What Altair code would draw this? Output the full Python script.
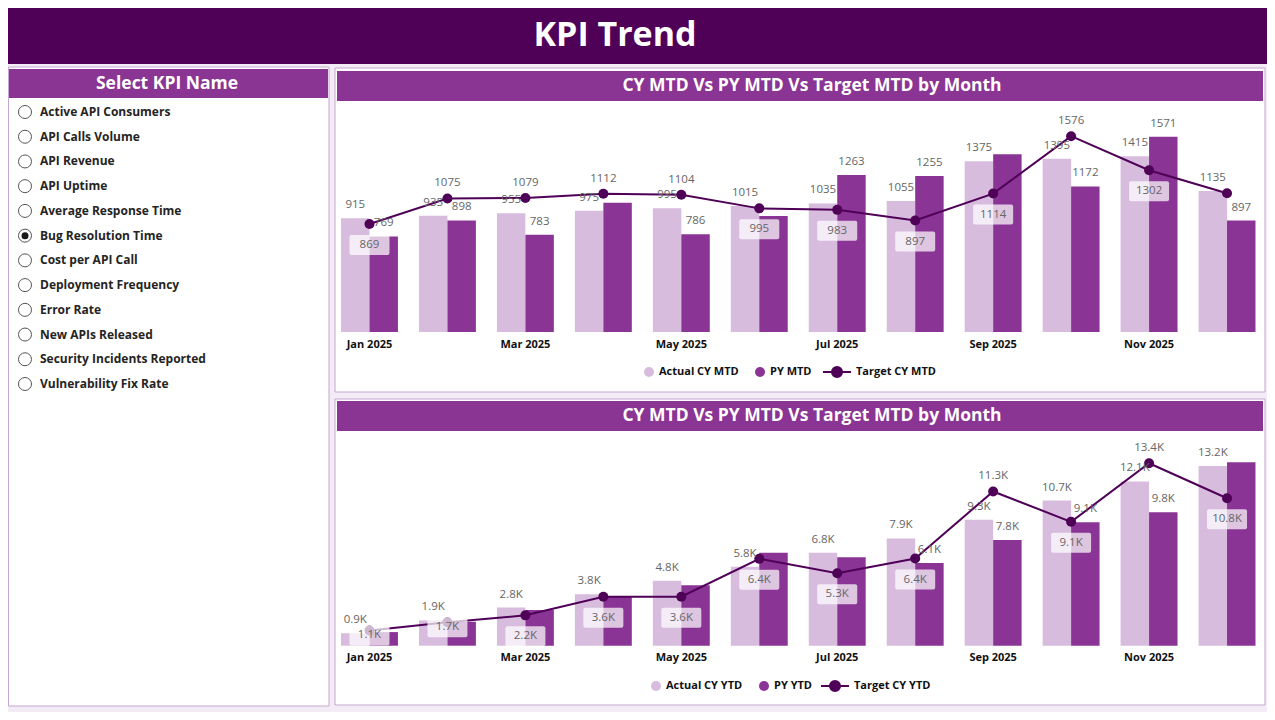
import altair as alt
import pandas as pd

# ---------------- data ----------------
months = ["Jan 2025", "Feb 2025", "Mar 2025", "Apr 2025", "May 2025", "Jun 2025",
          "Jul 2025", "Aug 2025", "Sep 2025", "Oct 2025", "Nov 2025", "Dec 2025"]
tick_months = ["Jan 2025", "Mar 2025", "May 2025", "Jul 2025", "Sep 2025", "Nov 2025"]

actual_mtd = [915, 935, 955, 975, 995, 1015, 1035, 1055, 1375, 1395, 1415, 1135]
py_mtd = [769, 898, 783, 1040, 786, 934, 1263, 1255, 1431, 1172, 1571, 897]
target_mtd = [869, 1075, 1079, 1112, 1104, 995, 983, 897, 1114, 1576, 1302, 1117]
py_mtd_label_shown = [1, 1, 1, 0, 1, 0, 1, 1, 0, 1, 1, 1]
target_mtd_label_shown = [1, 1, 1, 1, 1, 1, 1, 1, 1, 1, 1, 0]

actual_ytd = [915, 1860, 2805, 3780, 4775, 5790, 6825, 7880, 9255, 10660, 12065, 13200]
py_ytd = [1000, 1760, 2620, 3600, 4440, 6830, 6490, 6080, 7760, 9060, 9800, 13470]
target_ytd = [1120, 1720, 2230, 3600, 3600, 6380, 5320, 6400, 11330, 9100, 13400, 10830]
py_ytd_label_shown = [0, 0, 0, 0, 0, 0, 0, 1, 1, 1, 1, 0]
target_ytd_label_shown = [1, 1, 1, 1, 1, 1, 1, 1, 1, 1, 1, 1]

kpi_names = ["Active API Consumers", "API Calls Volume", "API Revenue", "API Uptime",
             "Average Response Time", "Bug Resolution Time", "Cost per API Call",
             "Deployment Frequency", "Error Rate", "New APIs Released",
             "Security Incidents Reported", "Vulnerability Fix Rate"]
selected_kpi = "Bug Resolution Time"

page_title = "KPI Trend"
slicer_title = "Select KPI Name"
panel_title = "CY MTD Vs PY MTD Vs Target MTD by Month"

# ---------------- style ----------------
W, H = 1259, 704
FONT = "Segoe UI, Open Sans, sans-serif"
BANNER = "#4F0157"
HEADER = "#8A3494"
LIGHT = "#D8BCDE"
DARKBAR = "#8A3495"
TARGET = "#4F0157"
BG = "#F3ECF6"
BORDER = "#C6A6D2"
LABEL = "#666666"

one = pd.DataFrame({"k": [0]})

LINE_DOT = "M-1,0L1,0M-0.36,0A0.36,0.36,0,1,0,0.36,0A0.36,0.36,0,1,0,-0.36,0Z"
ROUND_BOX = ("M-0.9,-0.5L0.9,-0.5Q1,-0.5,1,-0.4L1,0.4Q1,0.5,0.9,0.5L-0.9,0.5"
             "Q-1,0.5,-1,0.4L-1,-0.4Q-1,-0.5,-0.9,-0.5Z")


def rect(x, x2, y, y2, fill, stroke=None):
    kw = dict(fill=fill)
    if stroke:
        kw.update(stroke=stroke, strokeWidth=1)
    return alt.Chart(one).mark_rect(**kw).encode(
        x=alt.value(x), x2=alt.value(x2), y=alt.value(y), y2=alt.value(y2))


def label(text, x, y, size, color="white", weight="bold"):
    return alt.Chart(one).mark_text(text=text, font=FONT, fontSize=size, fontWeight=weight,
                                    color=color, align="center", baseline="middle").encode(
        x=alt.value(x), y=alt.value(y))


def legend(x, y, symbol="circle", size=100, extra=None):
    kw = dict(orient="none", legendX=x, legendY=y, title=None, symbolType=symbol,
              symbolSize=size, labelFont=FONT, labelFontSize=11, labelFontWeight="bold",
              labelColor="#111111", padding=0, labelOffset=4)
    if extra:
        kw.update(extra)
    return alt.Legend(**kw)


def trend_chart(actual, py, target, py_show, tgt_show, names, ydomain, yrange,
                tick_y, legend_y, legend_xs, kfmt):
    df = pd.DataFrame({"month": months, "actual": actual, "py": py, "target": target,
                       "py_show": py_show, "tgt_show": tgt_show})
    if kfmt:
        f = lambda c: f"format(datum.{c} / 1000, '.1f') + 'K'"
    else:
        f = lambda c: f"format(datum.{c}, 'd')"
    upp = (ydomain[1] - ydomain[0]) / (yrange[0] - yrange[1])  # data units per pixel
    pos_expr = (f"datum.target > datum.py && (datum.target - datum.actual) > {12 * upp} ? 'above' : "
                f"(datum.target < {25 * upp} ? 'center' : 'below')")
    base = alt.Chart(df).transform_calculate(
        lab_a=f("actual"), lab_p=f("py"), lab_t=f("target"), pos=pos_expr)

    xs = alt.Scale(domain=months, range=[322.5, 1258], paddingInner=0.27, paddingOuter=0.135)
    ys = alt.Scale(domain=ydomain, range=yrange, nice=False, zero=True)
    X = alt.X("month:N", scale=xs, axis=None)
    half = 14.23

    bar_a = base.transform_calculate(series=f'"{names[0]}"').mark_bar(
        width=alt.RelativeBandSize(0.5), xOffset=-half).encode(
        x=X, y=alt.Y("actual:Q", scale=ys, axis=None),
        color=alt.Color("series:N", scale=alt.Scale(domain=[names[0]], range=[LIGHT]),
                        legend=legend(legend_xs[0], legend_y)))
    bar_p = base.transform_calculate(series=f'"{names[1]}"').mark_bar(
        width=alt.RelativeBandSize(0.5), xOffset=half).encode(
        x=X, y=alt.Y("py:Q", scale=ys, axis=None),
        color=alt.Color("series:N", scale=alt.Scale(domain=[names[1]], range=[DARKBAR]),
                        legend=legend(legend_xs[1], legend_y)))
    line = base.mark_line(color=TARGET, strokeWidth=2).encode(
        x=X, y=alt.Y("target:Q", scale=ys, axis=None))
    pts = base.transform_calculate(series=f'"{names[2]}"').mark_point(
        filled=True, size=100, opacity=1, shape="circle").encode(
        x=X, y=alt.Y("target:Q", scale=ys, axis=None),
        color=alt.Color("series:N", scale=alt.Scale(domain=[names[2]], range=[TARGET]),
                        legend=legend(legend_xs[2], legend_y - 9, LINE_DOT, 784,
                                      dict(symbolStrokeWidth=2, symbolStrokeColor=TARGET,
                                           symbolFillColor=TARGET))))
    txt = dict(font=FONT, fontSize=11.5, color=LABEL)
    Yt = alt.Y("target:Q", scale=ys, axis=None)
    lab_a = base.mark_text(dy=-8, baseline="bottom", xOffset=-half, **txt).encode(
        x=X, y=alt.Y("actual:Q", scale=ys, axis=None), text="lab_a:N")
    lab_p = base.transform_filter("datum.py_show == 1").mark_text(
        dy=-8, baseline="bottom", xOffset=half, **txt).encode(
        x=X, y=alt.Y("py:Q", scale=ys, axis=None), text="lab_p:N")
    lab_t_up = base.transform_filter("datum.tgt_show == 1 && datum.pos == 'above'").mark_text(
        dy=-10, baseline="bottom", **txt).encode(x=X, y=Yt, text="lab_t:N")

    layers = [bar_a, bar_p, line, pts, lab_a, lab_p, lab_t_up]
    for where, off in (("below", 21), ("center", 5)):
        flt = f"datum.tgt_show == 1 && datum.pos == '{where}'"
        layers.append(base.transform_filter(flt).mark_point(
            shape=ROUND_BOX, filled=True, color="white", opacity=0.72, size=1600,
            yOffset=off).encode(x=X, y=Yt))
        layers.append(base.transform_filter(flt).mark_text(
            dy=off, baseline="middle", **txt).encode(x=X, y=Yt, text="lab_t:N"))

    ticks = base.transform_filter(alt.FieldOneOfPredicate(field="month", oneOf=tick_months)).mark_text(
        font=FONT, fontSize=11, fontWeight="bold", color="#111111", baseline="middle").encode(
        x=X, y=alt.value(tick_y), text="month:N")
    layers.append(ticks)

    return alt.layer(*layers).resolve_scale(color="independent")


# ---------------- left slicer ----------------
kdf = pd.DataFrame({"kpi": kpi_names})
ky = alt.Y("kpi:N", scale=alt.Scale(type="point", domain=kpi_names, range=[104, 376], padding=0),
           axis=None)
radio = alt.Chart(kdf).mark_point(shape="circle", size=169, filled=True, fill="white",
                                  stroke="#555555", strokeWidth=1, opacity=1).encode(
    x=alt.value(17), y=ky)
radio_sel = alt.Chart(kdf).transform_filter(f"datum.kpi == '{selected_kpi}'").mark_point(
    shape="circle", size=49, filled=True, color="#1a1a1a", opacity=1).encode(x=alt.value(17), y=ky)
kpi_text = alt.Chart(kdf).mark_text(align="left", baseline="middle", font=FONT, fontSize=12,
                                    fontWeight="bold", color="#252423").encode(
    x=alt.value(32), y=ky, text="kpi:N")
left = alt.layer(radio, radio_sel, kpi_text)

# ---------------- charts ----------------
top = trend_chart(actual_mtd, py_mtd, target_mtd, py_mtd_label_shown, target_mtd_label_shown,
                  ["Actual CY MTD", "PY MTD", "Target CY MTD"], [0, 1600], [324, 125.2],
                  336.5, 358, [635, 746, 814], False)
bottom = trend_chart(actual_ytd, py_ytd, target_ytd, py_ytd_label_shown, target_ytd_label_shown,
                     ["Actual CY YTD", "PY YTD", "Target CY YTD"], [0, 14000], [637.7, 447.1],
                     650, 672, [642, 750, 812], True)

decor = [
    rect(0, W, 0, 56, BANNER),
    label(page_title, 607, 28, 34),
    rect(0.5, 321, 59, 698, "white", BORDER),
    rect(1, 320, 61, 90, HEADER),
    label(slicer_title, 159, 75.5, 17.5),
    rect(327, 1257, 60, 384, "white", BORDER),
    rect(329, 1255, 63, 93, HEADER),
    label(panel_title, 804, 78, 17.5),
    rect(327, 1257, 391, 697, "white", BORDER),
    rect(329, 1255, 393, 423, HEADER),
    label(panel_title, 804, 408, 17.5),
]

chart = alt.layer(*decor, left, top, bottom).resolve_scale(
    x="independent", y="independent", color="independent"
).properties(
    width=W, height=H, autosize=alt.AutoSizeParams(type="none"), padding=0, background=BG
).configure_view(strokeWidth=0)

chart.save("out.html", embed_options={"renderer": "svg", "actions": False})
